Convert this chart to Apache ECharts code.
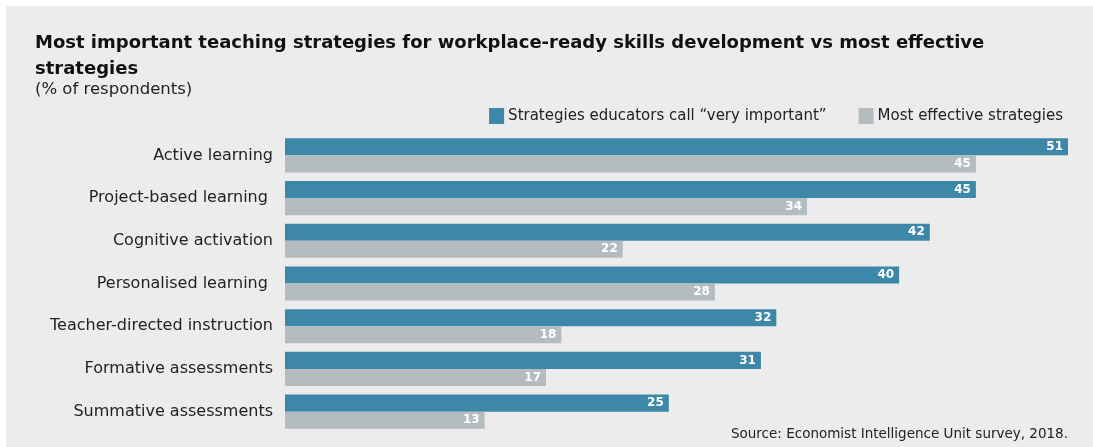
<!DOCTYPE html>
<html>
<head>
<meta charset="utf-8">
<script src="https://cdn.jsdelivr.net/npm/echarts@6/dist/echarts.min.js"></script>
<style>
html,body{margin:0;padding:0;background:#ffffff;}
#c{width:1093px;height:447px;}
</style>
</head>
<body>
<div id="c"></div>
<script>
const categories = [
  "Active learning",
  "Project-based learning ",
  "Cognitive activation",
  "Personalised learning ",
  "Teacher-directed instruction",
  "Formative assessments",
  "Summative assessments"
];
const veryImportant = [51, 45, 42, 40, 32, 31, 25];
const mostEffective = [45, 34, 22, 28, 18, 17, 13];
const seriesNames = ["Strategies educators call \u201cvery important\u201d", "Most effective strategies"];

const FONT = "'DejaVu Sans', sans-serif";
const chart = echarts.init(document.getElementById('c'));
chart.setOption({
  backgroundColor: '#ffffff',
  animation: false,
  graphic: [
    { type: 'rect', z: -10, shape: { x: 6, y: 6, width: 1087, height: 441 }, style: { fill: '#ececec' } },
    { type: 'text', left: 35, top: 30, style: { text: 'Most important teaching strategies for workplace-ready skills development vs most effective\nstrategies', font: "bold 18px " + FONT, fill: '#111', lineHeight: 26 } },
    { type: 'text', left: 35, top: 81, style: { text: '(% of respondents)', font: "16.5px " + FONT, fill: '#222' } },
    { type: 'text', right: 25, top: 427, style: { text: 'Source: Economist Intelligence Unit survey, 2018.', font: "13.5px " + FONT, fill: '#222', textAlign: 'right' } }
  ],
  legend: {
    right: 25, top: 103,
    itemWidth: 15, itemHeight: 16, itemGap: 32,
    icon: 'rect',
    textStyle: { fontFamily: FONT, fontSize: 15, color: '#222', padding: [0, 0, 0, -1] },
    data: seriesNames
  },
  grid: { left: 285, right: 25, top: 134, bottom: 14, containLabel: false },
  xAxis: {
    type: 'value', min: 0, max: 51,
    show: false
  },
  yAxis: {
    type: 'category', inverse: true, data: categories,
    axisLine: { show: false }, axisTick: { show: false },
    axisLabel: { fontFamily: FONT, fontSize: 16, color: '#222', margin: 12 }
  },
  series: [
    {
      name: seriesNames[0], type: 'bar', data: veryImportant,
      barCategoryGap: '20%', barGap: '0%',
      itemStyle: { color: '#3d88a8' },
      label: { show: true, position: 'insideRight', color: '#fff', fontWeight: 'bold', fontFamily: FONT, fontSize: 12, distance: 5 }
    },
    {
      name: seriesNames[1], type: 'bar', data: mostEffective,
      barCategoryGap: '20%', barGap: '0%',
      itemStyle: { color: '#b5bcc0' },
      label: { show: true, position: 'insideRight', color: '#fff', fontWeight: 'bold', fontFamily: FONT, fontSize: 12, distance: 5 }
    }
  ]
});
</script>
</body>
</html>
